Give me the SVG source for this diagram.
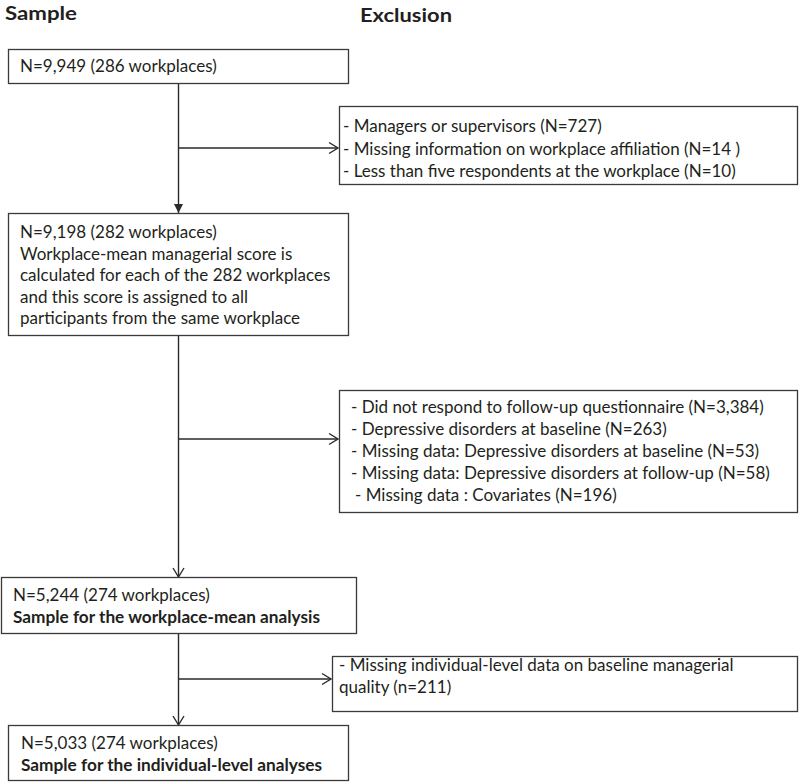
<svg xmlns="http://www.w3.org/2000/svg" width="800" height="782" viewBox="0 0 800 782">
<style>
  .box { fill: #ffffff; stroke: #3a3a3a; stroke-width: 1.3; }
  .t { font-family: Lato, "Liberation Sans", sans-serif; font-size: 17px; fill: #231f20; }
  .b { font-weight: bold; }
  .h { font-family: Lato, "Liberation Sans", sans-serif; font-size: 19px; font-weight: bold; fill: #231f20; }
  .ln { fill: none; stroke: #2a2a2a; stroke-width: 1.4; }
</style>
<defs>
  <marker id="tri" markerWidth="10" markerHeight="10" refX="9" refY="5" orient="auto" markerUnits="userSpaceOnUse">
    <path d="M0,0.5 L9,5 L0,9.5 Z" fill="#2a2a2a"/>
  </marker>
  <marker id="chev" markerWidth="12" markerHeight="14" refX="10" refY="7" orient="auto" markerUnits="userSpaceOnUse">
    <path d="M1,1.5 L10,7 L1,12.5" fill="none" stroke="#2a2a2a" stroke-width="1.4"/>
  </marker>
</defs>
<rect width="800" height="782" fill="#ffffff"/>
<g id="headers">
  <text class="h" x="5" y="20" textLength="72" lengthAdjust="spacingAndGlyphs">Sample</text>
  <text class="h" x="360" y="22" textLength="92" lengthAdjust="spacingAndGlyphs">Exclusion</text>
</g>
<g id="connectors">
  <line class="ln" x1="178.5" y1="83" x2="178.5" y2="213" marker-end="url(#tri)"/>
  <line class="ln" x1="178.5" y1="148" x2="338" y2="148" marker-end="url(#chev)"/>
  <line class="ln" x1="178.5" y1="335" x2="178.5" y2="577" marker-end="url(#chev)"/>
  <line class="ln" x1="178.5" y1="439" x2="338" y2="439" marker-end="url(#chev)"/>
  <line class="ln" x1="178.5" y1="633" x2="178.5" y2="725" marker-end="url(#chev)"/>
  <line class="ln" x1="178.5" y1="679" x2="331" y2="679" marker-end="url(#chev)"/>
</g>
<g id="n1">
  <rect class="box" x="8.5" y="49.5" width="340" height="34"/>
  <text class="t" x="20" y="72">N=9,949 (286 workplaces)</text>
</g>
<g id="e1">
  <rect class="box" x="339.5" y="106.5" width="458" height="78"/>
  <text class="t" x="343" y="132">- Managers or supervisors (N=727)</text>
  <text class="t" x="343" y="154.5">- Missing information on workplace affiliation (N=14 )</text>
  <text class="t" x="343" y="177">- Less than five respondents  at the workplace (N=10)</text>
</g>
<g id="n2">
  <rect class="box" x="8.5" y="213.5" width="340" height="122"/>
  <text class="t" x="20" y="238">N=9,198 (282 workplaces)</text>
  <text class="t" x="20" y="259.5">Workplace-mean managerial score is</text>
  <text class="t" x="20" y="281">calculated for each of the 282 workplaces</text>
  <text class="t" x="20" y="302.5">and this score is assigned to all</text>
  <text class="t" x="20" y="324">participants from the same workplace</text>
</g>
<g id="e2">
  <rect class="box" x="339.5" y="390.5" width="458" height="122"/>
  <text class="t" x="351" y="413">- Did not respond to follow-up questionnaire (N=3,384)</text>
  <text class="t" x="351" y="435">- Depressive disorders at baseline (N=263)</text>
  <text class="t" x="351" y="457">- Missing data: Depressive disorders at baseline  (N=53)</text>
  <text class="t" x="351" y="479">- Missing data: Depressive disorders at follow-up (N=58)</text>
  <text class="t" x="355" y="501">- Missing data : Covariates (N=196)</text>
</g>
<g id="n3">
  <rect class="box" x="1.5" y="577.5" width="355" height="56"/>
  <text class="t" x="13" y="601">N=5,244 (274 workplaces)</text>
  <text class="t b" x="13" y="623" textLength="307" lengthAdjust="spacingAndGlyphs">Sample for the workplace-mean analysis</text>
</g>
<g id="e3">
  <rect class="box" x="332.5" y="656.5" width="465" height="55"/>
  <text class="t" x="339" y="671">- Missing individual-level data on baseline managerial</text>
  <text class="t" x="339" y="693">quality (n=211)</text>
</g>
<g id="n4">
  <rect class="box" x="8.5" y="725.5" width="340" height="55"/>
  <text class="t" x="21" y="749">N=5,033 (274 workplaces)</text>
  <text class="t b" x="21" y="771" textLength="301" lengthAdjust="spacingAndGlyphs">Sample for the individual-level analyses</text>
</g>
</svg>
